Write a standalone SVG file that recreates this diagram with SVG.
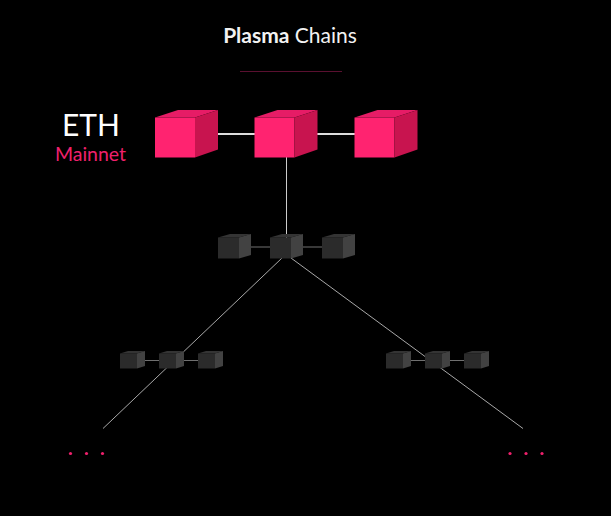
<svg xmlns="http://www.w3.org/2000/svg" xmlns:xlink="http://www.w3.org/1999/xlink" width="611" height="516" viewBox="0 0 611 516">
<style>
.title{font-family:Lato,"Open Sans","Liberation Sans",sans-serif;font-size:21px;fill:#f2f2f2}
.eth{font-family:Lato,"Open Sans","Liberation Sans",sans-serif;font-size:30px;font-weight:400;fill:#ffffff}
.main{font-family:Lato,"Open Sans","Liberation Sans",sans-serif;font-size:19.5px;fill:#f0206c}
.bf{fill:#ff2370}.bt{fill:#e61c66}.bs{fill:#c8144f}
.df{fill:#2b2b2b}.dt{fill:#343434}.ds{fill:#424242}
.top{stroke:#dddddd;stroke-width:2;fill:none}
.vert{stroke:#cccccc;stroke-width:1;fill:none}
.diag{stroke:#a8a8a8;stroke-width:1;fill:none}
.link{stroke:#707070;stroke-width:1;fill:none}
.dot{fill:#f0206c}
</style>
<defs>
<g id="bigcube">
<rect class="bf" x="0" y="0" width="40" height="40"/>
<polygon class="bt" points="0,0 23,-7.5 63,-7.5 40,0"/>
<polygon class="bs" points="40,0 63,-7.5 63,32 40,40"/>
</g>
<g id="midcube">
<rect class="df" x="0" y="0" width="21" height="21"/>
<polygon class="dt" points="0,0 12,-3.5 33,-3.5 21,0"/>
<polygon class="ds" points="21,0 33,-3.5 33,17.5 21,21"/>
</g>
<g id="smallcube">
<rect class="df" x="0" y="0" width="17" height="15"/>
<polygon class="dt" points="0,0 8,-2.5 25,-2.5 17,0"/>
<polygon class="ds" points="17,0 25,-2.5 25,12.5 17,15"/>
</g>
</defs>
<rect x="0" y="0" width="611" height="516" fill="#000000"/>
<g id="title">
<text class="title" x="290" y="42.5" text-anchor="middle"><tspan font-weight="700">Plasma</tspan> Chains</text>
<line x1="240" y1="71.5" x2="342" y2="71.5" stroke="#5a1030" stroke-width="1"/>
</g>
<g id="label-eth">
<text class="eth" x="91" y="136" text-anchor="middle">ETH</text>
<text class="main" x="90.5" y="160.5" text-anchor="middle">Mainnet</text>
</g>
<g id="connectors">
<line class="top" x1="205" y1="134" x2="255" y2="134"/>
<line class="top" x1="317" y1="134" x2="355" y2="134"/>
<line class="vert" x1="286.5" y1="157" x2="286.5" y2="240"/>
<line class="link" x1="239" y1="247" x2="270" y2="247"/>
<line class="link" x1="291" y1="247" x2="322" y2="247"/>
<line class="diag" x1="282" y1="258" x2="103" y2="428.5"/>
<line class="diag" x1="291" y1="258" x2="523" y2="428.5"/>
<line class="link" x1="137" y1="360.5" x2="159" y2="360.5"/>
<line class="link" x1="176" y1="360.5" x2="198" y2="360.5"/>
<line class="link" x1="403" y1="360.5" x2="425" y2="360.5"/>
<line class="link" x1="442" y1="360.5" x2="464" y2="360.5"/>
</g>
<g id="eth-block-1"><use xlink:href="#bigcube" x="155" y="117.5"/></g>
<g id="eth-block-2"><use xlink:href="#bigcube" x="254.5" y="117.5"/></g>
<g id="eth-block-3"><use xlink:href="#bigcube" x="354.5" y="117.5"/></g>
<g id="plasma-block-1"><use xlink:href="#midcube" x="218" y="237.5"/></g>
<g id="plasma-block-2"><use xlink:href="#midcube" x="270" y="237.5"/></g>
<g id="plasma-block-3"><use xlink:href="#midcube" x="322" y="237.5"/></g>
<g id="left-block-1"><use xlink:href="#smallcube" x="120" y="353.5"/></g>
<g id="left-block-2"><use xlink:href="#smallcube" x="159" y="353.5"/></g>
<g id="left-block-3"><use xlink:href="#smallcube" x="198" y="353.5"/></g>
<g id="right-block-1"><use xlink:href="#smallcube" x="386" y="353.5"/></g>
<g id="right-block-2"><use xlink:href="#smallcube" x="425" y="353.5"/></g>
<g id="right-block-3"><use xlink:href="#smallcube" x="464" y="353.5"/></g>
<g id="left-more">
<circle class="dot" cx="70.5" cy="453.5" r="1.6"/>
<circle class="dot" cx="86.5" cy="453.5" r="1.6"/>
<circle class="dot" cx="102.5" cy="453.5" r="1.6"/>
</g>
<g id="right-more">
<circle class="dot" cx="510" cy="453.5" r="1.6"/>
<circle class="dot" cx="526" cy="453.5" r="1.6"/>
<circle class="dot" cx="542" cy="453.5" r="1.6"/>
</g>
</svg>
